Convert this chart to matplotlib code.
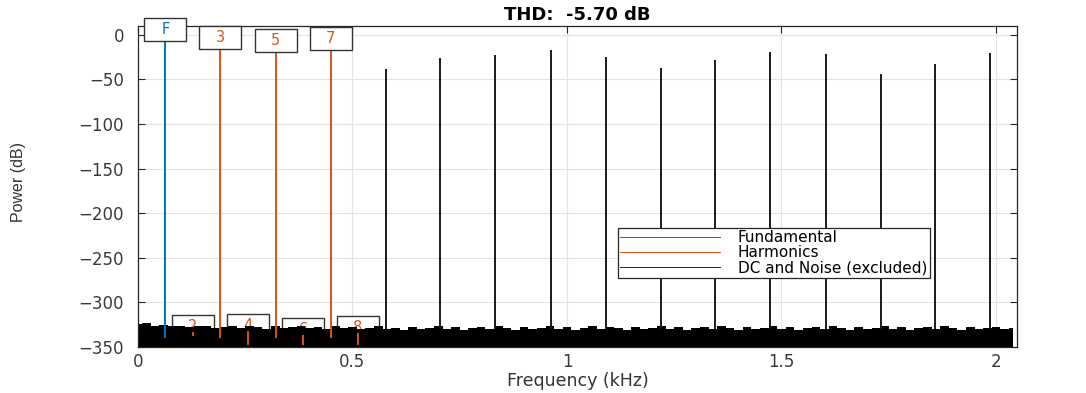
import numpy as np
import matplotlib
matplotlib.use("Agg")
import matplotlib.pyplot as plt
from matplotlib.path import Path
from matplotlib.lines import Line2D

# ---------------- data ----------------
title_text = "THD:  -5.70 dB"
x_label = "Frequency (kHz)"
y_label = "Power (dB)"

x_ticks = [0, 0.5, 1, 1.5, 2]
x_tick_labels = ["0", "0.5", "1", "1.5", "2"]
y_ticks = [-350, -300, -250, -200, -150, -100, -50, 0]

# fundamental
fund_freq_khz = 0.0641
fund_peak_db = 0.0
fund_base_db = -340.0

# harmonics 2..8 (labelled)
harm_labels = ["2", "3", "4", "5", "6", "7", "8"]
harm_freq_khz = [0.128, 0.192, 0.256, 0.321, 0.385, 0.449, 0.513]
harm_peak_db = [-333.5, -9.0, -332.5, -12.3, -336.0, -10.7, -334.0]
harm_base_db = [-338.0, -340.0, -348.0, -340.0, -348.0, -340.0, -348.0]

# excluded spurs (higher odd harmonics, drawn in black)
spur_freq_khz = [0.577, 0.705, 0.833, 0.962, 1.090, 1.218,
                 1.346, 1.474, 1.603, 1.731, 1.859, 1.987]
spur_peak_db = [-38.5, -25.8, -22.8, -17.2, -24.3, -37.4,
                -27.7, -18.7, -21.3, -43.4, -32.5, -19.9]
spur_base_db = -330.0

# noise floor upper envelope, sampled every 0.02 kHz from 0 to 2.04 kHz
noise_top_db = [
    -324, -323, -326, -325, -327, -326, -328, -327, -326, -329,
    -328, -327, -329, -326, -328, -330, -327, -329, -328, -326,
    -329, -328, -330, -327, -329, -328, -330, -329, -327, -330,
    -329, -331, -328, -330, -329, -327, -330, -328, -331, -329,
    -328, -330, -327, -329, -331, -328, -330, -329, -327, -330,
    -328, -331, -329, -327, -330, -328, -329, -331, -328, -330,
    -329, -327, -330, -328, -331, -329, -328, -330, -327, -329,
    -331, -328, -330, -329, -327, -330, -328, -331, -329, -328,
    -330, -327, -329, -331, -328, -330, -329, -327, -330, -328,
    -331, -329, -328, -330, -327, -329, -331, -328, -330, -329,
    -328, -330, -329]
noise_freq_khz = np.linspace(0.0, 2.04, len(noise_top_db))

legend_labels = ["Fundamental", "Harmonics", "DC and Noise (excluded)"]

# ---------------- styling ----------------
BLUE = "#0072BD"
ORANGE = "#D95319"
AX_COL = "#262626"
W, H = 1086, 393
DPI = 100

fig = plt.figure(figsize=(W / DPI, H / DPI), dpi=DPI)
ax = fig.add_axes([138 / W, 46 / H, (1017 - 138) / W, (347 - 26) / H])
ax.set_xlim(0, 2.049)
ax.set_ylim(-350, 10)

BOX_W, BOX_H = 42, 23


def fixed_box(x0, y0, width, height, mutation_size):
    s = fig.dpi / 100.0
    cx, cy = x0 + width / 2.0, y0 + height / 2.0
    hw, hh = BOX_W * s / 2.0, BOX_H * s / 2.0
    verts = [(cx - hw, cy - hh), (cx + hw, cy - hh), (cx + hw, cy + hh),
             (cx - hw, cy + hh), (cx - hw, cy - hh)]
    return Path(verts, closed=True)


# grid
ax.set_axisbelow(True)
ax.grid(True, color="#e3e3e3", linewidth=0.8)

# noise floor
ax.fill_between(noise_freq_khz, -350, noise_top_db, step="mid",
                color="black", linewidth=0, zorder=2)

# excluded spurs
ax.vlines(spur_freq_khz, spur_base_db, spur_peak_db, colors="#1a1a1a",
          linewidth=1.4, zorder=2.2)

# fundamental & harmonics
ax.vlines([fund_freq_khz], [fund_base_db], [fund_peak_db], colors=BLUE,
          linewidth=1.4, zorder=3)
ax.vlines(harm_freq_khz, harm_base_db, harm_peak_db, colors=ORANGE,
          linewidth=1.4, zorder=3)

# labels
off_pt = 5.5 * 72 / 100.0
box_props = dict(boxstyle=fixed_box, fc="white", ec="#333333", lw=1.0)
ax.annotate("F", xy=(fund_freq_khz, fund_peak_db), xytext=(0, off_pt),
            textcoords="offset points", ha="center", va="center",
            color=BLUE, fontsize=10.5, bbox=box_props, zorder=4)
for lab, f, v in zip(harm_labels, harm_freq_khz, harm_peak_db):
    z = 4 if v > -200 else 1.5
    ax.annotate(lab, xy=(f, v), xytext=(0, off_pt),
                textcoords="offset points", ha="center", va="center",
                color=ORANGE, fontsize=10.5, bbox=box_props, zorder=z)

# axes styling
ax.set_xticks(x_ticks)
ax.set_xticklabels(x_tick_labels)
ax.set_yticks(y_ticks)
ax.tick_params(axis="both", direction="in", length=5, width=0.8,
               color=AX_COL, labelcolor="#3a3a3a", labelsize=12,
               top=True, right=True)
ax.tick_params(axis="y", pad=10)
ax.tick_params(axis="x", pad=4)
for sp in ax.spines.values():
    sp.set_color(AX_COL)
    sp.set_linewidth(0.9)

ax.set_title(title_text, fontsize=13, fontweight="bold", pad=4)
ax.set_xlabel(x_label, fontsize=12.5, color="#333333", labelpad=1)
ax.set_ylabel(y_label, fontsize=11.5, color="#333333",
              family=["Liberation Sans", "DejaVu Sans"])
ax.yaxis.set_label_coords((19 - 138) / (1017 - 138), (347 - 182) / (347 - 26))
ax.yaxis.label.set_va("center")

handles = [Line2D([], [], color=BLUE, lw=0.7),
           Line2D([], [], color=ORANGE, lw=0.7),
           Line2D([], [], color="#222222", lw=0.7)]
leg = ax.legend(handles, legend_labels, loc="upper left",
                bbox_to_anchor=(618 / W, 1 - 228 / H),
                bbox_transform=fig.transFigure, borderaxespad=0,
                fancybox=False, framealpha=1, edgecolor=AX_COL,
                fontsize=11, handlelength=6.5, handletextpad=1.2,
                borderpad=0.15, labelspacing=0.0)
leg.get_frame().set_linewidth(0.9)
leg.set_zorder(6)

fig.savefig("out.png", dpi=DPI)
